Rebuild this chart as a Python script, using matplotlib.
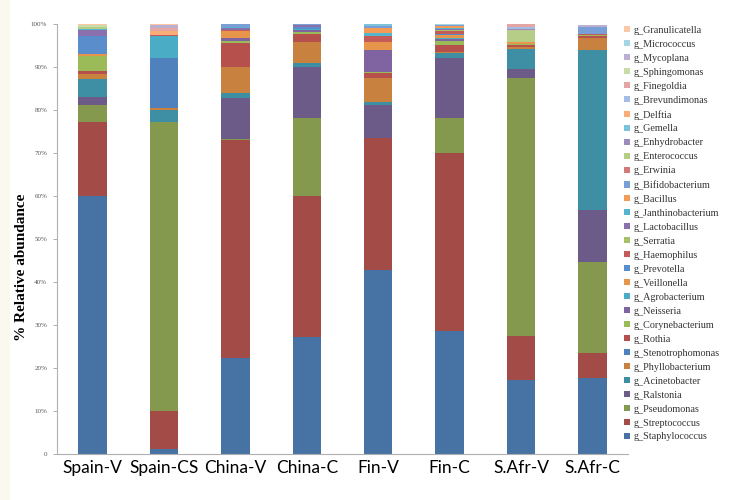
import matplotlib
matplotlib.use("Agg")
import matplotlib.pyplot as plt
from matplotlib.patches import Patch, Rectangle
import numpy as np

samples = ["Spain-V", "Spain-CS", "China-V", "China-C", "Fin-V", "Fin-C", "S.Afr-V", "S.Afr-C"]

genera = ["g_Staphylococcus", "g_Streptococcus", "g_Pseudomonas", "g_Ralstonia",
          "g_Acinetobacter", "g_Phyllobacterium", "g_Stenotrophomonas", "g_Rothia",
          "g_Corynebacterium", "g_Neisseria", "g_Agrobacterium", "g_Veillonella",
          "g_Prevotella", "g_Haemophilus", "g_Serratia", "g_Lactobacillus",
          "g_Janthinobacterium", "g_Bacillus", "g_Bifidobacterium", "g_Erwinia",
          "g_Enterococcus", "g_Enhydrobacter", "g_Gemella", "g_Delftia",
          "g_Brevundimonas", "g_Finegoldia", "g_Sphingomonas", "g_Mycoplana",
          "g_Micrococcus", "g_Granulicatella"]

colors = ["#4672A4", "#A34B47", "#84994E", "#6C5A89", "#3E8EA4", "#C8813E",
          "#4F81BD", "#B5504C", "#9BBB59", "#8064A2", "#4BACC6", "#E8954C",
          "#5A8DCB", "#C55B58", "#A5C266", "#8A70AC", "#55B5CF", "#F49C55",
          "#7A9FD6", "#D37A78", "#B5CD86", "#9E8BBD", "#7CC3D9", "#F8AE76",
          "#A5BDE4", "#E3A6A5", "#C9DDA8", "#BBAFD2", "#A6D4E3", "#FBC7A4"]

# % relative abundance per sample, in the same order as genera
spain_v = [60.0, 17.3, 3.9, 1.9, 4.1, 1.1, 0, 0.8, 3.5, 0, 0, 0.4, 4.3, 0, 0,
           1.3, 0.3, 0, 0, 0, 0.5, 0, 0, 0, 0, 0, 0.3, 0, 0, 0.3]
spain_cs = [1.1, 9.0, 67.0, 0, 2.9, 0.4, 11.6, 0, 0, 0, 5.1, 0, 0, 0.4, 0,
            0, 0, 0, 0, 0, 0, 0, 0, 0.8, 0, 0.8, 0, 0.6, 0, 0.3]
china_v = [22.4, 50.6, 0.3, 9.6, 1.0, 6.0, 0, 5.7, 0.4, 0.8, 0, 1.5, 0, 0.3, 0,
           0.5, 0.3, 0, 0.6, 0, 0, 0, 0, 0, 0, 0, 0, 0, 0, 0]
china_c = [27.2, 32.8, 18.2, 11.9, 0.9, 4.7, 0, 2.0, 0.4, 0.5, 0.3, 0, 0.3, 0.2, 0,
           0.3, 0, 0, 0.3, 0, 0, 0, 0, 0, 0, 0, 0, 0, 0, 0]
fin_v = [42.8, 30.6, 0, 7.8, 0.6, 5.6, 0, 1.1, 0.4, 5.1, 0, 1.7, 0, 1.5, 0,
         0, 0.6, 1.2, 0.6, 0, 0, 0, 0.4, 0, 0, 0, 0, 0, 0, 0]
fin_c = [28.6, 41.4, 8.1, 13.9, 1.2, 0.2, 0, 1.8, 0.9, 0.3, 0.3, 0.7, 0.3, 0.6, 0.3,
         0.3, 0.2, 0.4, 0.2, 0, 0, 0, 0, 0, 0, 0, 0, 0, 0.3, 0]
safr_v = [17.2, 10.2, 60.1, 2.0, 4.7, 0.4, 0, 0.5, 0.3, 0, 0, 0.4, 0, 0, 0,
          0, 0, 0, 0, 0, 2.7, 0.4, 0, 0, 0.3, 0.8, 0, 0, 0, 0]
safr_c = [17.7, 5.8, 21.2, 12.0, 37.3, 2.7, 0, 0.4, 0.3, 0, 0, 0, 0, 0.3, 0,
          0, 0, 0, 1.5, 0, 0, 0, 0, 0, 0, 0, 0, 0.5, 0, 0]

yticks = [0, 10, 20, 30, 40, 50, 60, 70, 80, 90, 100]
ytick_labels = ["0", "10%", "20%", "30%", "40%", "50%", "60%", "70%", "80%", "90%", "100%"]

data = np.array([spain_v, spain_cs, china_v, china_c, fin_v, fin_c, safr_v, safr_c]).T

fig = plt.figure(figsize=(7.42, 5.0), dpi=100)
fig.patch.set_facecolor("white")
fig.patches.append(Rectangle((0, 0), 10 / 742, 1, transform=fig.transFigure,
                             facecolor="#FAF8EF", edgecolor="none", zorder=0))

ax = fig.add_axes([57 / 742, 46 / 500, 571 / 742, 430 / 500])
x = np.arange(len(samples))
bottom = np.zeros(len(samples))
for vals, col in zip(data, colors):
    ax.bar(x, vals, 0.4, bottom=bottom, color=col, linewidth=0)
    bottom += vals

ax.set_xlim(-0.5, len(samples) - 0.5)
ax.set_ylim(0, 100)
ax.set_yticks(yticks)
ax.set_yticklabels(ytick_labels, fontsize=5, family="Liberation Serif", color="#555555")
ax.set_xticks(x)
ax.set_xticklabels(samples, fontsize=12.5, family="Lato", color="black")
ax.tick_params(axis="x", length=0, pad=4)
ax.tick_params(axis="y", length=3, width=0.6, color="#A0A0A0", pad=4)
for s in ["top", "right"]:
    ax.spines[s].set_visible(False)
for s in ["left", "bottom"]:
    ax.spines[s].set_color("#B0B0B0")
    ax.spines[s].set_linewidth(0.8)

fig.text(22 / 742, 1 - 267 / 500, "% Relative abundance", rotation=90,
         ha="center", va="center", fontsize=11, fontweight="bold",
         family="Liberation Serif")

handles = [Patch(facecolor=c, edgecolor="none") for c in colors]
fig.legend(handles[::-1], genera[::-1], loc="upper left",
           bbox_to_anchor=(624 / 742, 1 - 26 / 500), frameon=False,
           prop={"family": "Liberation Serif", "size": 7.3},
           labelcolor="#333333", handlelength=0.55, handleheight=0.55,
           handletextpad=0.4, labelspacing=0.49, borderaxespad=0, borderpad=0)

fig.savefig("out.png", dpi=100)
